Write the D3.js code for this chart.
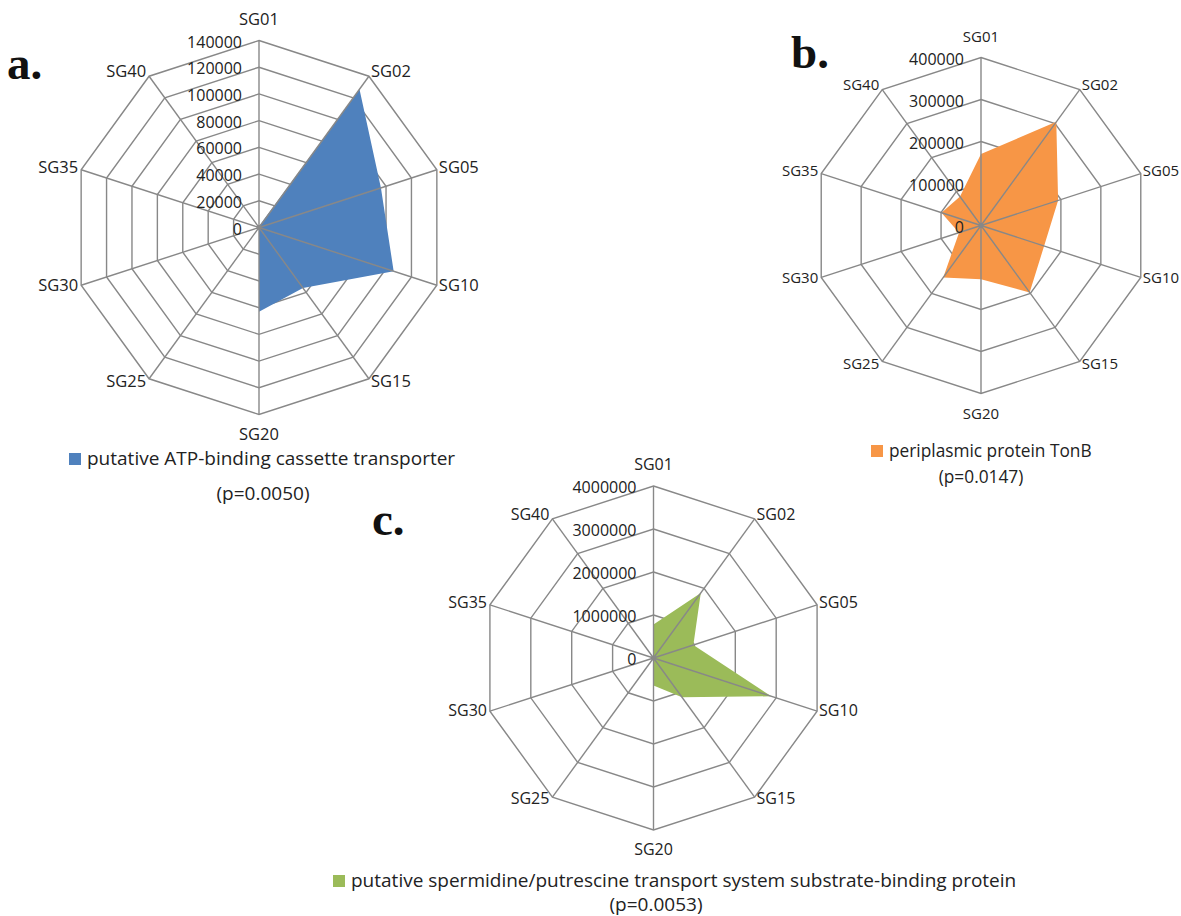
<!DOCTYPE html>
<html>
<head>
<meta charset="utf-8">
<script src="https://cdn.jsdelivr.net/npm/d3@7"></script>
<style>
  body { margin: 0; background: #fff; }
  svg { display: block; font-family: "Open Sans", sans-serif; }
  .grid { fill: none; stroke: #888; stroke-width: 1.4; }
  .axis-label { fill: #222; }
  .tick-label { font-size: 16px; fill: #222; }
  .legend { fill: #222; }
  .panel-letter { font-family: "Liberation Serif", serif; font-weight: bold; font-size: 47px; fill: #111; }
</style>
</head>
<body>
<svg></svg>
<script>
// spokes, clockwise from the top
const axes = ["SG01", "SG02", "SG05", "SG10", "SG15", "SG20", "SG25", "SG30", "SG35", "SG40"];

const abcValues = [1000, 128000, 96000, 106000, 56000, 63000, 0, 0, 0, 0];
const tonbValues = [170000, 305000, 193000, 158000, 197000, 128000, 153000, 55000, 99000, 85000];
const spermValues = [780000, 1870000, 975000, 2880000, 1130000, 640000, 0, 0, 0, 0];

const abcTicks = [0, 20000, 40000, 60000, 80000, 100000, 120000, 140000];
const tonbTicks = [0, 100000, 200000, 300000, 400000];
const spermTicks = [0, 1000000, 2000000, 3000000, 4000000];

const seriesNames = [
  "putative ATP-binding cassette transporter",
  "periplasmic protein TonB",
  "putative spermidine/putrescine transport system substrate-binding protein"
];
const pLabels = ["(p=0.0050)", "(p=0.0147)", "(p=0.0053)"];
const panelLetters = ["a.", "b.", "c."];

const panels = [
  {
    values: abcValues, ticks: abcTicks, color: "#4f81bd",
    cx: 259, cy: 227.5, radius: 187, legendSize: 19, axisSize: 16.5,
    letter: [7, 79], legend: [69, 465], p: [263, 500]
  },
  {
    values: tonbValues, ticks: tonbTicks, color: "#f79646",
    cx: 981, cy: 225.5, radius: 168, legendSize: 17.3, axisSize: 15,
    letter: [791, 68], legend: [871, 457], p: [981, 483]
  },
  {
    values: spermValues, ticks: spermTicks, color: "#9bbb59",
    cx: 653.5, cy: 658, radius: 172, legendSize: 19, axisSize: 16,
    letter: [372, 535], legend: [333, 887], p: [656, 911]
  }
];

const svg = d3.select("svg").attr("width", 1181).attr("height", 916);

const step = (2 * Math.PI) / axes.length;

const drawRadar = function(panel, k) {
  const g = svg.append("g").attr("transform", `translate(${panel.cx}, ${panel.cy})`);
  const r = d3
    .scaleLinear()
    .domain([0, d3.max(panel.ticks)])
    .range([0, panel.radius]);

  const radial = d3
    .lineRadial()
    .angle((d, i) => i * step)
    .radius(d => r(d))
    .curve(d3.curveLinearClosed);

  // rings
  g.selectAll("path.ring")
    .data(panel.ticks.filter(t => t > 0))
    .enter()
    .append("path")
    .attr("class", "grid ring")
    .attr("d", t => radial(axes.map(() => t)));

  // series area
  g.append("path")
    .attr("d", radial(panel.values))
    .attr("fill", panel.color);

  // spokes sit on top of the fill
  g.selectAll("line.spoke")
    .data(axes)
    .enter()
    .append("line")
    .attr("class", "grid spoke")
    .attr("x1", 0)
    .attr("y1", 0)
    .attr("x2", (d, i) => r.range()[1] * Math.sin(i * step))
    .attr("y2", (d, i) => -r.range()[1] * Math.cos(i * step));

  g.append("circle").attr("r", 2.5).attr("fill", "#888");

  g.selectAll("text.tick-label")
    .data(panel.ticks)
    .enter()
    .append("text")
    .attr("class", "tick-label")
    .attr("x", -17)
    .attr("y", t => -r(t) + 1)
    .attr("text-anchor", "end")
    .attr("dominant-baseline", "central")
    .text(t => t);

  g.selectAll("text.axis-label")
    .data(axes)
    .enter()
    .append("text")
    .attr("class", "axis-label")
    .style("font-size", panel.axisSize + "px")
    .each(function(d, i) {
      const a = i * step;
      const sx = Math.sin(a);
      const cy = -Math.cos(a);
      const R = r.range()[1];
      const label = d3.select(this).text(d);
      if (Math.abs(sx) < 0.01) {
        label
          .attr("x", 0)
          .attr("y", cy < 0 ? -R - 16 : R + 25)
          .attr("text-anchor", "middle");
      } else {
        label
          .attr("x", R * sx + (sx > 0 ? 2 : -3))
          .attr("y", R * cy + cy * 4 - 2)
          .attr("text-anchor", sx > 0 ? "start" : "end")
          .attr("dominant-baseline", "central");
      }
    });

  svg.append("text")
    .attr("class", "panel-letter")
    .attr("x", panel.letter[0])
    .attr("y", panel.letter[1])
    .text(panelLetters[k]);

  const legend = svg.append("g").attr("transform", `translate(${panel.legend[0]}, ${panel.legend[1]})`);
  legend.append("rect")
    .attr("x", 0)
    .attr("y", -12)
    .attr("width", 12)
    .attr("height", 12)
    .attr("fill", panel.color);
  legend.append("text")
    .attr("class", "legend")
    .attr("x", 18)
    .attr("y", 0)
    .style("font-size", panel.legendSize + "px")
    .text(seriesNames[k]);

  svg.append("text")
    .attr("class", "legend")
    .attr("x", panel.p[0])
    .attr("y", panel.p[1])
    .attr("text-anchor", "middle")
    .style("font-size", panel.legendSize + "px")
    .text(pLabels[k]);
};

panels.forEach(drawRadar);
</script>
</body>
</html>
